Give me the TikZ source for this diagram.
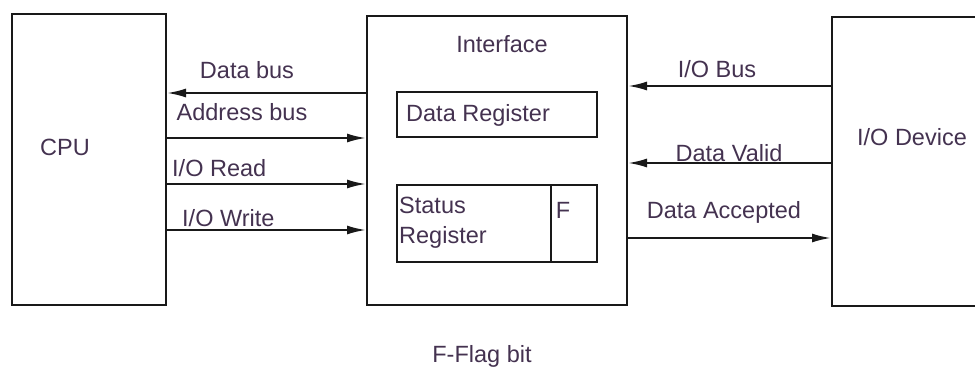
\documentclass[tikz,border=0pt]{standalone}
\usepackage{fontspec}
\setmainfont{Liberation Sans}
\usetikzlibrary{arrows.meta}
\definecolor{ink}{RGB}{25,25,25}
\definecolor{txt}{RGB}{68,50,80}
\tikzset{
  blk/.style={draw=ink, line width=2pt, rectangle, inner sep=0pt},
  lbl/.style={text=txt, font=\fontsize{23.5}{27}\selectfont, inner sep=0pt},
  arr/.style={draw=ink, line width=2pt, -{Latex[length=19pt,width=9pt]}},
}
\begin{document}
\begin{tikzpicture}[x=1pt,y=-1pt]
  \useasboundingbox (0,0) rectangle (975,367);
  \clip (0,0) rectangle (975,367);

  % main blocks
  \node[blk, minimum width=154pt, minimum height=291pt] (cpu) at (89,159.5) {};
  \node[blk, minimum width=260pt, minimum height=289pt] (iface) at (497,160.5) {};
  \node[blk, minimum width=170pt, minimum height=289pt] (dev) at (917,161.5) {};

  % registers inside the interface
  \node[blk, minimum width=200pt, minimum height=45pt] (dreg) at (497,114.5) {};
  \node[blk, minimum width=154pt, minimum height=77pt] (sreg) at (474,223.5) {};
  \node[blk, minimum width=46pt, minimum height=77pt] (freg) at (574,223.5) {};

  % block labels
  \node[lbl] (tcpu) at (65,147) {CPU};
  \node[lbl] (tiface) at (502,44) {Interface};
  \node[lbl] (tdev) at (912,137) {I/O Device};
  \node[lbl, anchor=west] (tdreg) at (406,115) {Data Register};
  \node[lbl, anchor=north west, align=left, font=\fontsize{23.5}{30}\selectfont] (tsreg) at (399,197) {Status\\Register};
  \node[lbl] (tf) at (563,210) {F};
  \node[lbl] (tflag) at (482,356) {F-Flag bit};

  % CPU side signals
  \draw[arr] (iface.west |- 0,93) -- (cpu.east |- 0,93);
  \draw[arr] (cpu.east |- 0,138) -- (iface.west |- 0,138);
  \draw[arr] (cpu.east |- 0,184) -- (iface.west |- 0,184);
  \draw[arr] (cpu.east |- 0,230) -- (iface.west |- 0,230);
  \node[lbl] (tdbus) at (247,70) {Data bus};
  \node[lbl] (tabus) at (242,112) {Address bus};
  \node[lbl, anchor=west] (tread) at (172,168) {I/O Read};
  \node[lbl, anchor=west] (twrite) at (182,218) {I/O Write};

  % device side signals
  \draw[arr] (dev.west |- 0,86) -- (iface.east |- 0,86);
  \draw[arr] (dev.west |- 0,163) -- (iface.east |- 0,163);
  \draw[arr] (iface.east |- 0,238) -- (dev.west |- 0,238);
  \node[lbl] (tiobus) at (717,69) {I/O Bus};
  \node[lbl] (tvalid) at (729,153) {Data Valid};
  \node[lbl] (tacc) at (724,212) {Data Accepted};
\end{tikzpicture}
\end{document}
